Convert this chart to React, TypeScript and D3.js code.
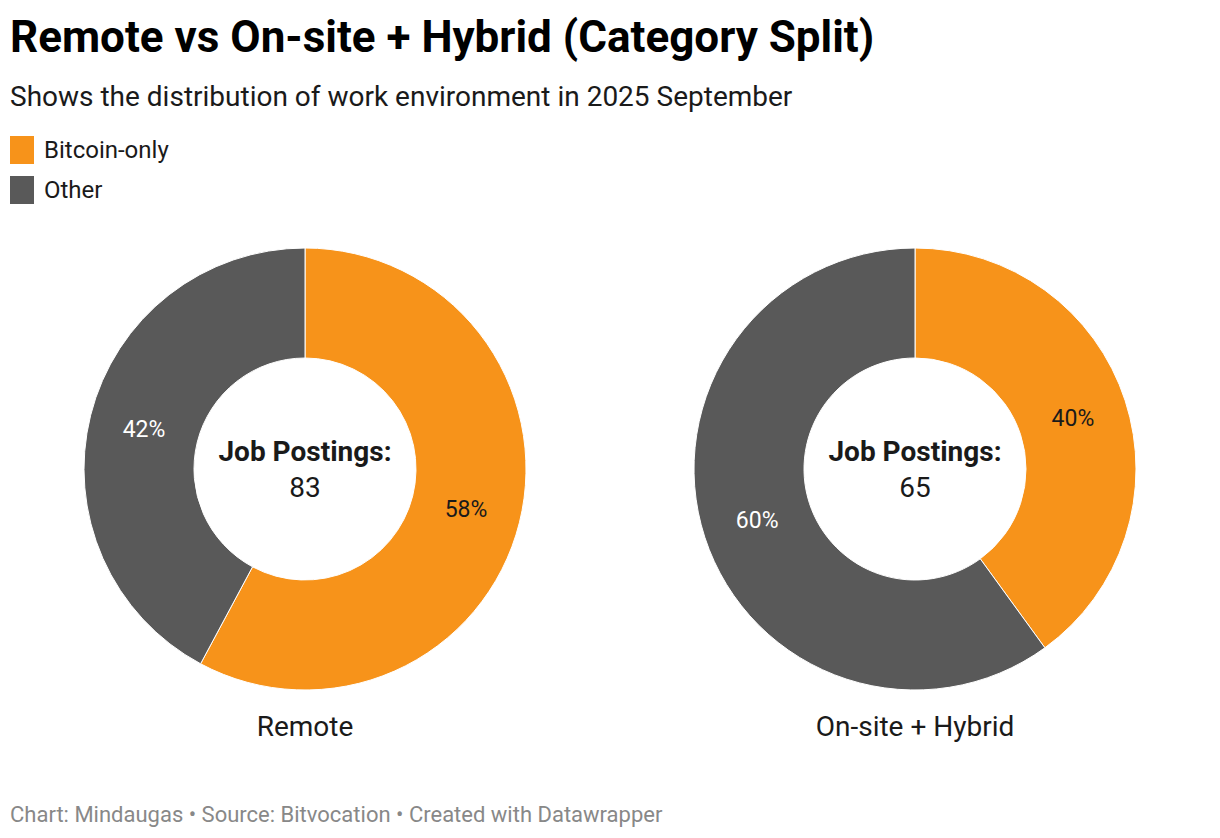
import { useEffect, useRef } from 'react';
import * as d3 from 'd3';

const categories = ['Bitcoin-only', 'Other'];
const colors = ['#f7931a', '#595959'];
const labelColors = ['#1a1a1a', '#ffffff'];

const groups = ['Remote', 'On-site + Hybrid'];
const totals = [83, 65];
const bitcoinOnly = [48, 26];
const other = [35, 39];

const width = 1220;
const height = 838;

export default function App() {
  const svgRef = useRef<SVGSVGElement>(null);

  useEffect(() => {
    if (!svgRef.current) return;
    document.body.style.margin = '0';
    const svg = d3.select(svgRef.current);
    svg.selectAll('*').remove();

    const font = 'Roboto, sans-serif';

    svg
      .append('text')
      .attr('x', 10)
      .attr('y', 52)
      .style('font-family', font)
      .style('font-weight', 700)
      .style('font-size', '44px')
      .style('fill', '#000')
      .text('Remote vs On-site + Hybrid (Category Split)');

    svg
      .append('text')
      .attr('x', 10)
      .attr('y', 106)
      .style('font-family', font)
      .style('font-size', '28px')
      .style('fill', '#1a1a1a')
      .text('Shows the distribution of work environment in 2025 September');

    const legend = svg
      .selectAll('.legend')
      .data(categories)
      .enter()
      .append('g')
      .attr('class', 'legend')
      .attr('transform', (_d, i) => `translate(10,${136 + i * 40})`);

    legend
      .append('rect')
      .attr('width', 24)
      .attr('height', 28)
      .attr('fill', (_d, i) => colors[i]);

    legend
      .append('text')
      .attr('x', 34)
      .attr('y', 22)
      .style('font-family', font)
      .style('font-size', '24px')
      .style('fill', '#1a1a1a')
      .text((d) => d);

    const x = d3.scalePoint().domain(groups).range([305, 915]);
    const outer = 221;
    const inner = 111;
    const cy = 469;

    const pie = d3
      .pie<number>()
      .sort(null)
      .value((d) => d);
    const arc = d3.arc<d3.PieArcDatum<number>>().innerRadius(inner).outerRadius(outer);

    groups.forEach((name, gi) => {
      const values = [bitcoinOnly[gi], other[gi]];
      const total = d3.sum(values);
      const g = svg.append('g').attr('transform', `translate(${x(name)},${cy})`);
      const arcs = pie(values);

      g.selectAll('path')
        .data(arcs)
        .enter()
        .append('path')
        .attr('d', arc)
        .attr('fill', (_d, i) => colors[i])
        .attr('stroke', '#fff')
        .attr('stroke-width', 1);

      g.selectAll('.pct')
        .data(arcs)
        .enter()
        .append('text')
        .attr('class', 'pct')
        .attr('transform', (d) => `translate(${arc.centroid(d)})`)
        .attr('text-anchor', 'middle')
        .attr('dy', '0.35em')
        .style('font-family', font)
        .style('font-size', '23px')
        .style('fill', (_d, i) => labelColors[i])
        .text((d) => `${Math.round((d.value / total) * 100)}%`);

      g.append('text')
        .attr('text-anchor', 'middle')
        .attr('y', -8)
        .style('font-family', font)
        .style('font-weight', 700)
        .style('font-size', '28px')
        .style('fill', '#1a1a1a')
        .text('Job Postings:');

      g.append('text')
        .attr('text-anchor', 'middle')
        .attr('y', 28)
        .style('font-family', font)
        .style('font-size', '28px')
        .style('fill', '#1a1a1a')
        .text(totals[gi]);

      g.append('text')
        .attr('text-anchor', 'middle')
        .attr('y', 267)
        .style('font-family', font)
        .style('font-size', '28px')
        .style('fill', '#1a1a1a')
        .text(name);
    });

    svg
      .append('text')
      .attr('x', 10)
      .attr('y', 822)
      .style('font-family', font)
      .style('font-size', '22px')
      .style('fill', '#888')
      .text('Chart: Mindaugas • Source: Bitvocation • Created with Datawrapper');
  }, []);

  return <svg ref={svgRef} width={width} height={height} style={{ display: 'block' }} />;
}
